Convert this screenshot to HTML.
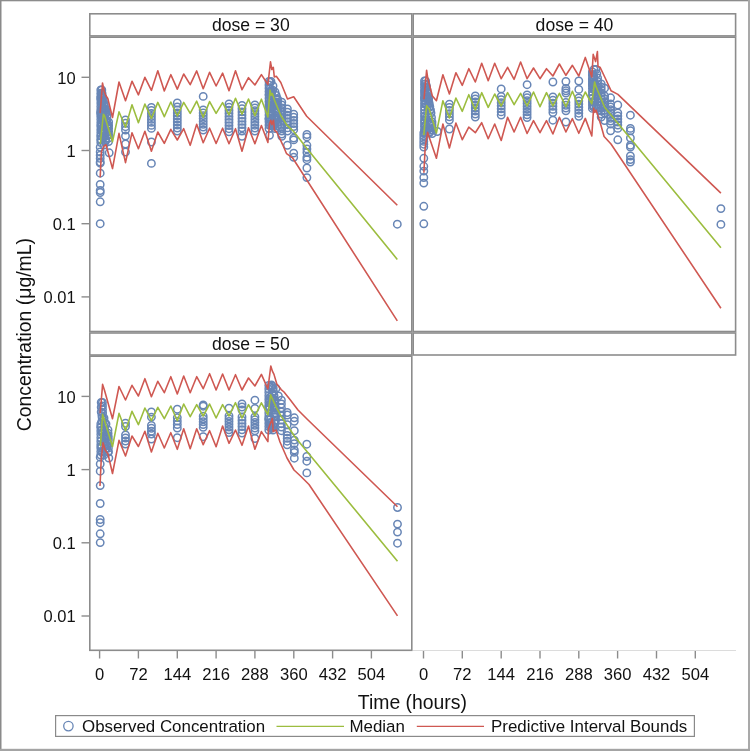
<!DOCTYPE html>
<html><head><meta charset="utf-8"><style>html,body{margin:0;padding:0;background:#fff;width:750px;height:751px;overflow:hidden}</style></head>
<body><svg width="750" height="751" viewBox="0 0 750 751" style="display:block;will-change:transform">
<rect x="0" y="0" width="750" height="751" fill="#fff"/>
<rect x="0" y="0" width="1.5" height="751" fill="#8a8a8a"/>
<rect x="0" y="0" width="750" height="1.3" fill="#8c8c8c"/>
<rect x="748" y="0" width="2" height="751" fill="#a9a9a9"/>
<rect x="0" y="748.8" width="750" height="2.2" fill="#a4a4a4"/>
<defs><clipPath id="c1"><rect x="90.5" y="36.5" width="320.5" height="294.5"/></clipPath><clipPath id="c2"><rect x="414" y="36.5" width="321" height="294.5"/></clipPath><clipPath id="c3"><rect x="90.5" y="355.5" width="320.5" height="294.5"/></clipPath></defs>
<g clip-path="url(#c1)" fill="none" stroke="#6886b6" stroke-width="1.5"><circle cx="125.5" cy="120.0" r="3.7"/><circle cx="125.5" cy="123.3" r="3.7"/><circle cx="125.5" cy="126.7" r="3.7"/><circle cx="125.5" cy="130.0" r="3.7"/><circle cx="125.5" cy="136.0" r="3.7"/><circle cx="125.5" cy="144.0" r="3.7"/><circle cx="125.5" cy="152.0" r="3.7"/><circle cx="151.4" cy="107.5" r="3.7"/><circle cx="151.4" cy="110.5" r="3.7"/><circle cx="151.4" cy="113.5" r="3.7"/><circle cx="151.4" cy="116.5" r="3.7"/><circle cx="151.4" cy="119.4" r="3.7"/><circle cx="151.4" cy="122.4" r="3.7"/><circle cx="151.4" cy="125.4" r="3.7"/><circle cx="151.4" cy="128.4" r="3.7"/><circle cx="151.4" cy="142.0" r="3.7"/><circle cx="151.4" cy="163.4" r="3.7"/><circle cx="177.3" cy="107.0" r="3.7"/><circle cx="177.3" cy="110.0" r="3.7"/><circle cx="177.3" cy="113.0" r="3.7"/><circle cx="177.3" cy="116.0" r="3.7"/><circle cx="177.3" cy="119.0" r="3.7"/><circle cx="177.3" cy="122.0" r="3.7"/><circle cx="177.3" cy="125.0" r="3.7"/><circle cx="177.3" cy="128.0" r="3.7"/><circle cx="177.3" cy="131.0" r="3.7"/><circle cx="177.3" cy="103.0" r="3.7"/><circle cx="203.2" cy="110.0" r="3.7"/><circle cx="203.2" cy="112.9" r="3.7"/><circle cx="203.2" cy="115.7" r="3.7"/><circle cx="203.2" cy="118.6" r="3.7"/><circle cx="203.2" cy="121.4" r="3.7"/><circle cx="203.2" cy="124.3" r="3.7"/><circle cx="203.2" cy="127.1" r="3.7"/><circle cx="203.2" cy="130.0" r="3.7"/><circle cx="203.2" cy="96.4" r="3.7"/><circle cx="229.0" cy="104.0" r="3.7"/><circle cx="229.0" cy="107.1" r="3.7"/><circle cx="229.0" cy="110.2" r="3.7"/><circle cx="229.0" cy="113.3" r="3.7"/><circle cx="229.0" cy="116.4" r="3.7"/><circle cx="229.0" cy="119.4" r="3.7"/><circle cx="229.0" cy="122.5" r="3.7"/><circle cx="229.0" cy="125.6" r="3.7"/><circle cx="229.0" cy="128.7" r="3.7"/><circle cx="229.0" cy="131.8" r="3.7"/><circle cx="242.0" cy="105.5" r="3.7"/><circle cx="242.0" cy="108.7" r="3.7"/><circle cx="242.0" cy="111.9" r="3.7"/><circle cx="242.0" cy="115.1" r="3.7"/><circle cx="242.0" cy="118.2" r="3.7"/><circle cx="242.0" cy="121.4" r="3.7"/><circle cx="242.0" cy="124.6" r="3.7"/><circle cx="242.0" cy="127.8" r="3.7"/><circle cx="242.0" cy="131.0" r="3.7"/><circle cx="242.0" cy="136.3" r="3.7"/><circle cx="254.9" cy="105.0" r="3.7"/><circle cx="254.9" cy="107.9" r="3.7"/><circle cx="254.9" cy="110.8" r="3.7"/><circle cx="254.9" cy="113.7" r="3.7"/><circle cx="254.9" cy="116.6" r="3.7"/><circle cx="254.9" cy="119.4" r="3.7"/><circle cx="254.9" cy="122.3" r="3.7"/><circle cx="254.9" cy="125.2" r="3.7"/><circle cx="254.9" cy="128.1" r="3.7"/><circle cx="254.9" cy="131.0" r="3.7"/><circle cx="281.8" cy="105.0" r="3.7"/><circle cx="281.8" cy="107.9" r="3.7"/><circle cx="281.8" cy="110.8" r="3.7"/><circle cx="281.8" cy="113.7" r="3.7"/><circle cx="281.8" cy="116.6" r="3.7"/><circle cx="281.8" cy="119.5" r="3.7"/><circle cx="281.8" cy="122.4" r="3.7"/><circle cx="281.8" cy="125.3" r="3.7"/><circle cx="281.8" cy="128.2" r="3.7"/><circle cx="281.8" cy="131.1" r="3.7"/><circle cx="281.8" cy="134.0" r="3.7"/><circle cx="281.8" cy="102.2" r="3.7"/><circle cx="281.8" cy="136.3" r="3.7"/><circle cx="287.4" cy="109.0" r="3.7"/><circle cx="287.4" cy="112.1" r="3.7"/><circle cx="287.4" cy="115.3" r="3.7"/><circle cx="287.4" cy="118.4" r="3.7"/><circle cx="287.4" cy="121.6" r="3.7"/><circle cx="287.4" cy="124.7" r="3.7"/><circle cx="287.4" cy="127.9" r="3.7"/><circle cx="287.4" cy="131.0" r="3.7"/><circle cx="287.4" cy="145.3" r="3.7"/><circle cx="293.7" cy="114.2" r="3.7"/><circle cx="293.7" cy="117.3" r="3.7"/><circle cx="293.7" cy="120.4" r="3.7"/><circle cx="293.7" cy="123.5" r="3.7"/><circle cx="293.7" cy="126.6" r="3.7"/><circle cx="293.7" cy="129.7" r="3.7"/><circle cx="293.7" cy="138.1" r="3.7"/><circle cx="293.7" cy="139.9" r="3.7"/><circle cx="293.7" cy="153.1" r="3.7"/><circle cx="293.7" cy="157.3" r="3.7"/><circle cx="306.9" cy="145.3" r="3.7"/><circle cx="306.9" cy="148.9" r="3.7"/><circle cx="306.9" cy="152.5" r="3.7"/><circle cx="306.9" cy="134.5" r="3.7"/><circle cx="306.9" cy="136.9" r="3.7"/><circle cx="306.9" cy="157.3" r="3.7"/><circle cx="306.9" cy="159.7" r="3.7"/><circle cx="306.9" cy="168.0" r="3.7"/><circle cx="306.9" cy="177.6" r="3.7"/><circle cx="100.2" cy="147.2" r="3.7"/><circle cx="100.2" cy="152.0" r="3.7"/><circle cx="100.2" cy="155.2" r="3.7"/><circle cx="100.2" cy="158.4" r="3.7"/><circle cx="100.2" cy="162.0" r="3.7"/><circle cx="100.2" cy="163.2" r="3.7"/><circle cx="100.2" cy="173.2" r="3.7"/><circle cx="100.2" cy="184.5" r="3.7"/><circle cx="100.2" cy="190.5" r="3.7"/><circle cx="100.2" cy="192.5" r="3.7"/><circle cx="100.2" cy="201.8" r="3.7"/><circle cx="100.2" cy="223.7" r="3.7"/><circle cx="397.3" cy="224.2" r="3.7"/><circle cx="109.2" cy="152.8" r="3.7"/><circle cx="108.6" cy="141.5" r="3.7"/><circle cx="104.0" cy="145.0" r="3.7"/><circle cx="269.5" cy="135.3" r="3.7"/><circle cx="105.0" cy="109.2" r="3.7"/><circle cx="101.3" cy="116.6" r="3.7"/><circle cx="101.1" cy="112.8" r="3.7"/><circle cx="101.3" cy="94.8" r="3.7"/><circle cx="104.1" cy="133.4" r="3.7"/><circle cx="101.8" cy="101.7" r="3.7"/><circle cx="105.7" cy="139.8" r="3.7"/><circle cx="105.3" cy="110.8" r="3.7"/><circle cx="101.9" cy="96.2" r="3.7"/><circle cx="103.2" cy="132.8" r="3.7"/><circle cx="102.2" cy="120.5" r="3.7"/><circle cx="101.3" cy="100.8" r="3.7"/><circle cx="106.1" cy="112.4" r="3.7"/><circle cx="103.3" cy="120.7" r="3.7"/><circle cx="104.3" cy="105.7" r="3.7"/><circle cx="107.0" cy="126.7" r="3.7"/><circle cx="102.7" cy="120.2" r="3.7"/><circle cx="104.9" cy="135.9" r="3.7"/><circle cx="104.1" cy="129.7" r="3.7"/><circle cx="102.0" cy="115.7" r="3.7"/><circle cx="101.1" cy="125.1" r="3.7"/><circle cx="106.8" cy="120.1" r="3.7"/><circle cx="106.2" cy="121.2" r="3.7"/><circle cx="105.3" cy="114.0" r="3.7"/><circle cx="104.5" cy="124.9" r="3.7"/><circle cx="101.3" cy="126.8" r="3.7"/><circle cx="103.8" cy="125.1" r="3.7"/><circle cx="101.0" cy="114.2" r="3.7"/><circle cx="102.1" cy="96.1" r="3.7"/><circle cx="101.3" cy="130.3" r="3.7"/><circle cx="101.8" cy="103.0" r="3.7"/><circle cx="103.8" cy="135.7" r="3.7"/><circle cx="101.4" cy="113.6" r="3.7"/><circle cx="105.1" cy="136.4" r="3.7"/><circle cx="107.2" cy="135.4" r="3.7"/><circle cx="103.0" cy="111.8" r="3.7"/><circle cx="103.6" cy="136.4" r="3.7"/><circle cx="102.2" cy="102.2" r="3.7"/><circle cx="102.6" cy="115.5" r="3.7"/><circle cx="100.8" cy="112.0" r="3.7"/><circle cx="103.7" cy="119.7" r="3.7"/><circle cx="108.2" cy="126.3" r="3.7"/><circle cx="104.8" cy="122.4" r="3.7"/><circle cx="107.8" cy="130.9" r="3.7"/><circle cx="107.6" cy="131.9" r="3.7"/><circle cx="103.9" cy="110.9" r="3.7"/><circle cx="101.6" cy="123.3" r="3.7"/><circle cx="101.3" cy="93.5" r="3.7"/><circle cx="102.4" cy="98.5" r="3.7"/><circle cx="100.8" cy="97.9" r="3.7"/><circle cx="101.6" cy="109.1" r="3.7"/><circle cx="101.0" cy="135.9" r="3.7"/><circle cx="102.8" cy="108.2" r="3.7"/><circle cx="104.4" cy="115.4" r="3.7"/><circle cx="101.5" cy="95.4" r="3.7"/><circle cx="103.5" cy="103.9" r="3.7"/><circle cx="101.0" cy="139.9" r="3.7"/><circle cx="107.5" cy="126.6" r="3.7"/><circle cx="102.8" cy="109.3" r="3.7"/><circle cx="102.1" cy="130.5" r="3.7"/><circle cx="105.0" cy="130.9" r="3.7"/><circle cx="100.8" cy="90.0" r="3.7"/><circle cx="101.8" cy="90.0" r="3.7"/><circle cx="102.1" cy="93.5" r="3.7"/><circle cx="102.4" cy="97.0" r="3.7"/><circle cx="103.3" cy="100.5" r="3.7"/><circle cx="104.2" cy="104.0" r="3.7"/><circle cx="105.6" cy="109.0" r="3.7"/><circle cx="106.3" cy="112.5" r="3.7"/><circle cx="107.0" cy="116.0" r="3.7"/><circle cx="108.6" cy="122.0" r="3.7"/><circle cx="108.6" cy="125.2" r="3.7"/><circle cx="108.6" cy="128.4" r="3.7"/><circle cx="108.6" cy="131.6" r="3.7"/><circle cx="108.6" cy="134.8" r="3.7"/><circle cx="108.6" cy="138.0" r="3.7"/><circle cx="105.5" cy="141.2" r="3.7"/><circle cx="100.8" cy="142.5" r="3.7"/><circle cx="100.8" cy="139.2" r="3.7"/><circle cx="100.8" cy="135.9" r="3.7"/><circle cx="100.8" cy="132.7" r="3.7"/><circle cx="100.8" cy="129.4" r="3.7"/><circle cx="100.8" cy="126.1" r="3.7"/><circle cx="100.8" cy="122.8" r="3.7"/><circle cx="100.8" cy="119.5" r="3.7"/><circle cx="100.8" cy="116.2" r="3.7"/><circle cx="100.8" cy="113.0" r="3.7"/><circle cx="100.8" cy="109.7" r="3.7"/><circle cx="100.8" cy="106.4" r="3.7"/><circle cx="100.8" cy="103.1" r="3.7"/><circle cx="100.8" cy="99.8" r="3.7"/><circle cx="100.8" cy="96.6" r="3.7"/><circle cx="100.8" cy="93.3" r="3.7"/><circle cx="271.8" cy="92.0" r="3.7"/><circle cx="276.2" cy="119.4" r="3.7"/><circle cx="276.0" cy="116.3" r="3.7"/><circle cx="270.9" cy="105.8" r="3.7"/><circle cx="269.2" cy="94.6" r="3.7"/><circle cx="271.2" cy="114.0" r="3.7"/><circle cx="277.1" cy="102.5" r="3.7"/><circle cx="277.1" cy="98.6" r="3.7"/><circle cx="270.9" cy="92.2" r="3.7"/><circle cx="270.7" cy="91.1" r="3.7"/><circle cx="274.3" cy="123.8" r="3.7"/><circle cx="276.1" cy="104.0" r="3.7"/><circle cx="274.6" cy="119.1" r="3.7"/><circle cx="269.7" cy="112.5" r="3.7"/><circle cx="276.7" cy="118.3" r="3.7"/><circle cx="275.4" cy="104.0" r="3.7"/><circle cx="270.5" cy="118.6" r="3.7"/><circle cx="271.8" cy="119.1" r="3.7"/><circle cx="277.3" cy="100.1" r="3.7"/><circle cx="272.4" cy="126.0" r="3.7"/><circle cx="270.1" cy="88.6" r="3.7"/><circle cx="276.7" cy="119.4" r="3.7"/><circle cx="270.2" cy="120.3" r="3.7"/><circle cx="277.3" cy="112.4" r="3.7"/><circle cx="272.0" cy="107.3" r="3.7"/><circle cx="270.1" cy="82.2" r="3.7"/><circle cx="277.3" cy="112.0" r="3.7"/><circle cx="273.5" cy="125.4" r="3.7"/><circle cx="272.7" cy="122.5" r="3.7"/><circle cx="271.1" cy="95.3" r="3.7"/><circle cx="271.0" cy="109.1" r="3.7"/><circle cx="271.2" cy="101.2" r="3.7"/><circle cx="270.1" cy="124.3" r="3.7"/><circle cx="272.0" cy="103.0" r="3.7"/><circle cx="274.0" cy="124.0" r="3.7"/><circle cx="272.6" cy="124.6" r="3.7"/><circle cx="273.3" cy="106.5" r="3.7"/><circle cx="272.7" cy="90.1" r="3.7"/><circle cx="269.0" cy="119.1" r="3.7"/><circle cx="270.5" cy="103.8" r="3.7"/><circle cx="275.2" cy="107.7" r="3.7"/><circle cx="271.8" cy="105.9" r="3.7"/><circle cx="273.7" cy="118.4" r="3.7"/><circle cx="269.9" cy="107.8" r="3.7"/><circle cx="271.1" cy="94.5" r="3.7"/><circle cx="275.6" cy="105.4" r="3.7"/><circle cx="273.8" cy="117.2" r="3.7"/><circle cx="276.8" cy="102.3" r="3.7"/><circle cx="274.2" cy="105.3" r="3.7"/><circle cx="273.4" cy="114.1" r="3.7"/><circle cx="272.8" cy="106.6" r="3.7"/><circle cx="273.1" cy="125.8" r="3.7"/><circle cx="274.9" cy="122.7" r="3.7"/><circle cx="273.8" cy="125.8" r="3.7"/><circle cx="270.0" cy="102.3" r="3.7"/><circle cx="269.6" cy="92.8" r="3.7"/><circle cx="269.0" cy="81.5" r="3.7"/><circle cx="271.0" cy="81.5" r="3.7"/><circle cx="273.0" cy="86.0" r="3.7"/><circle cx="275.0" cy="92.0" r="3.7"/><circle cx="276.2" cy="95.5" r="3.7"/><circle cx="277.5" cy="99.0" r="3.7"/><circle cx="277.5" cy="102.4" r="3.7"/><circle cx="277.5" cy="105.8" r="3.7"/><circle cx="277.5" cy="109.1" r="3.7"/><circle cx="277.5" cy="112.5" r="3.7"/><circle cx="277.5" cy="115.9" r="3.7"/><circle cx="277.5" cy="119.2" r="3.7"/><circle cx="277.5" cy="122.6" r="3.7"/><circle cx="277.5" cy="126.0" r="3.7"/><circle cx="275.0" cy="128.5" r="3.7"/><circle cx="269.0" cy="128.5" r="3.7"/><circle cx="269.0" cy="125.1" r="3.7"/><circle cx="269.0" cy="121.8" r="3.7"/><circle cx="269.0" cy="118.4" r="3.7"/><circle cx="269.0" cy="115.1" r="3.7"/><circle cx="269.0" cy="111.7" r="3.7"/><circle cx="269.0" cy="108.4" r="3.7"/><circle cx="269.0" cy="105.0" r="3.7"/><circle cx="269.0" cy="101.6" r="3.7"/><circle cx="269.0" cy="98.3" r="3.7"/><circle cx="269.0" cy="94.9" r="3.7"/><circle cx="269.0" cy="91.6" r="3.7"/><circle cx="269.0" cy="88.2" r="3.7"/><circle cx="269.0" cy="84.9" r="3.7"/></g>
<g clip-path="url(#c2)" fill="none" stroke="#6886b6" stroke-width="1.5"><circle cx="449.4" cy="104.2" r="3.7"/><circle cx="449.4" cy="107.4" r="3.7"/><circle cx="449.4" cy="110.5" r="3.7"/><circle cx="449.4" cy="113.7" r="3.7"/><circle cx="449.4" cy="116.8" r="3.7"/><circle cx="449.4" cy="120.0" r="3.7"/><circle cx="449.4" cy="129.0" r="3.7"/><circle cx="475.3" cy="96.0" r="3.7"/><circle cx="475.3" cy="99.0" r="3.7"/><circle cx="475.3" cy="102.0" r="3.7"/><circle cx="475.3" cy="105.0" r="3.7"/><circle cx="475.3" cy="108.0" r="3.7"/><circle cx="475.3" cy="111.0" r="3.7"/><circle cx="475.3" cy="114.0" r="3.7"/><circle cx="475.3" cy="117.0" r="3.7"/><circle cx="501.2" cy="96.5" r="3.7"/><circle cx="501.2" cy="99.6" r="3.7"/><circle cx="501.2" cy="102.7" r="3.7"/><circle cx="501.2" cy="105.8" r="3.7"/><circle cx="501.2" cy="108.8" r="3.7"/><circle cx="501.2" cy="111.9" r="3.7"/><circle cx="501.2" cy="115.0" r="3.7"/><circle cx="501.2" cy="88.9" r="3.7"/><circle cx="527.1" cy="95.0" r="3.7"/><circle cx="527.1" cy="97.8" r="3.7"/><circle cx="527.1" cy="100.7" r="3.7"/><circle cx="527.1" cy="103.5" r="3.7"/><circle cx="527.1" cy="106.3" r="3.7"/><circle cx="527.1" cy="109.1" r="3.7"/><circle cx="527.1" cy="111.9" r="3.7"/><circle cx="527.1" cy="114.8" r="3.7"/><circle cx="527.1" cy="117.6" r="3.7"/><circle cx="527.1" cy="84.7" r="3.7"/><circle cx="552.9" cy="97.0" r="3.7"/><circle cx="552.9" cy="100.1" r="3.7"/><circle cx="552.9" cy="103.2" r="3.7"/><circle cx="552.9" cy="106.3" r="3.7"/><circle cx="552.9" cy="109.4" r="3.7"/><circle cx="552.9" cy="112.5" r="3.7"/><circle cx="552.9" cy="82.0" r="3.7"/><circle cx="552.9" cy="120.2" r="3.7"/><circle cx="565.9" cy="88.5" r="3.7"/><circle cx="565.9" cy="90.8" r="3.7"/><circle cx="565.9" cy="93.0" r="3.7"/><circle cx="565.9" cy="102.5" r="3.7"/><circle cx="565.9" cy="105.3" r="3.7"/><circle cx="565.9" cy="108.0" r="3.7"/><circle cx="565.9" cy="110.8" r="3.7"/><circle cx="565.9" cy="81.5" r="3.7"/><circle cx="565.9" cy="122.0" r="3.7"/><circle cx="578.8" cy="98.0" r="3.7"/><circle cx="578.8" cy="101.0" r="3.7"/><circle cx="578.8" cy="104.1" r="3.7"/><circle cx="578.8" cy="107.2" r="3.7"/><circle cx="578.8" cy="110.2" r="3.7"/><circle cx="578.8" cy="113.2" r="3.7"/><circle cx="578.8" cy="116.3" r="3.7"/><circle cx="578.8" cy="81.0" r="3.7"/><circle cx="578.8" cy="89.4" r="3.7"/><circle cx="604.6" cy="96.0" r="3.7"/><circle cx="604.6" cy="98.8" r="3.7"/><circle cx="604.6" cy="101.7" r="3.7"/><circle cx="604.6" cy="104.5" r="3.7"/><circle cx="604.6" cy="107.3" r="3.7"/><circle cx="604.6" cy="110.2" r="3.7"/><circle cx="604.6" cy="113.0" r="3.7"/><circle cx="604.6" cy="88.2" r="3.7"/><circle cx="604.6" cy="120.6" r="3.7"/><circle cx="601.2" cy="84.0" r="3.7"/><circle cx="601.2" cy="87.0" r="3.7"/><circle cx="601.2" cy="90.0" r="3.7"/><circle cx="601.2" cy="93.0" r="3.7"/><circle cx="601.2" cy="96.0" r="3.7"/><circle cx="601.2" cy="99.0" r="3.7"/><circle cx="601.2" cy="102.0" r="3.7"/><circle cx="601.2" cy="105.0" r="3.7"/><circle cx="601.2" cy="108.0" r="3.7"/><circle cx="601.2" cy="111.0" r="3.7"/><circle cx="601.2" cy="114.0" r="3.7"/><circle cx="601.2" cy="117.0" r="3.7"/><circle cx="610.6" cy="104.0" r="3.7"/><circle cx="610.6" cy="106.9" r="3.7"/><circle cx="610.6" cy="109.7" r="3.7"/><circle cx="610.6" cy="112.6" r="3.7"/><circle cx="610.6" cy="115.4" r="3.7"/><circle cx="610.6" cy="118.3" r="3.7"/><circle cx="610.6" cy="121.1" r="3.7"/><circle cx="610.6" cy="124.0" r="3.7"/><circle cx="610.6" cy="97.8" r="3.7"/><circle cx="610.6" cy="130.8" r="3.7"/><circle cx="617.8" cy="113.0" r="3.7"/><circle cx="617.8" cy="116.0" r="3.7"/><circle cx="617.8" cy="119.0" r="3.7"/><circle cx="617.8" cy="122.0" r="3.7"/><circle cx="617.8" cy="125.0" r="3.7"/><circle cx="617.8" cy="105.0" r="3.7"/><circle cx="617.8" cy="128.4" r="3.7"/><circle cx="617.8" cy="139.8" r="3.7"/><circle cx="630.4" cy="115.2" r="3.7"/><circle cx="630.4" cy="128.4" r="3.7"/><circle cx="630.4" cy="130.8" r="3.7"/><circle cx="630.4" cy="138.0" r="3.7"/><circle cx="630.4" cy="145.2" r="3.7"/><circle cx="630.4" cy="147.0" r="3.7"/><circle cx="630.4" cy="156.0" r="3.7"/><circle cx="630.4" cy="159.6" r="3.7"/><circle cx="630.4" cy="162.0" r="3.7"/><circle cx="423.8" cy="133.0" r="3.7"/><circle cx="423.8" cy="135.8" r="3.7"/><circle cx="423.8" cy="138.6" r="3.7"/><circle cx="423.8" cy="141.4" r="3.7"/><circle cx="423.8" cy="144.2" r="3.7"/><circle cx="423.8" cy="147.0" r="3.7"/><circle cx="423.8" cy="158.3" r="3.7"/><circle cx="423.8" cy="166.3" r="3.7"/><circle cx="423.8" cy="171.1" r="3.7"/><circle cx="423.8" cy="177.5" r="3.7"/><circle cx="423.8" cy="183.1" r="3.7"/><circle cx="423.8" cy="206.3" r="3.7"/><circle cx="423.8" cy="223.8" r="3.7"/><circle cx="720.9" cy="208.6" r="3.7"/><circle cx="720.9" cy="224.4" r="3.7"/><circle cx="437.3" cy="131.5" r="3.7"/><circle cx="432.2" cy="133.6" r="3.7"/><circle cx="425.0" cy="115.8" r="3.7"/><circle cx="430.4" cy="127.6" r="3.7"/><circle cx="425.7" cy="118.2" r="3.7"/><circle cx="426.1" cy="130.5" r="3.7"/><circle cx="427.5" cy="106.3" r="3.7"/><circle cx="431.9" cy="124.3" r="3.7"/><circle cx="425.7" cy="103.4" r="3.7"/><circle cx="428.4" cy="98.6" r="3.7"/><circle cx="426.0" cy="97.6" r="3.7"/><circle cx="428.7" cy="103.9" r="3.7"/><circle cx="424.6" cy="98.2" r="3.7"/><circle cx="429.2" cy="107.6" r="3.7"/><circle cx="425.0" cy="132.2" r="3.7"/><circle cx="430.4" cy="131.5" r="3.7"/><circle cx="425.3" cy="94.8" r="3.7"/><circle cx="424.8" cy="121.5" r="3.7"/><circle cx="426.5" cy="87.7" r="3.7"/><circle cx="427.7" cy="128.4" r="3.7"/><circle cx="425.6" cy="128.8" r="3.7"/><circle cx="428.8" cy="117.4" r="3.7"/><circle cx="425.2" cy="84.0" r="3.7"/><circle cx="425.0" cy="129.8" r="3.7"/><circle cx="429.3" cy="122.7" r="3.7"/><circle cx="425.1" cy="125.5" r="3.7"/><circle cx="425.0" cy="125.9" r="3.7"/><circle cx="427.9" cy="98.6" r="3.7"/><circle cx="428.6" cy="129.2" r="3.7"/><circle cx="426.5" cy="87.7" r="3.7"/><circle cx="425.3" cy="89.4" r="3.7"/><circle cx="424.9" cy="91.5" r="3.7"/><circle cx="426.8" cy="96.9" r="3.7"/><circle cx="430.0" cy="109.7" r="3.7"/><circle cx="424.5" cy="81.0" r="3.7"/><circle cx="425.6" cy="81.0" r="3.7"/><circle cx="426.3" cy="85.5" r="3.7"/><circle cx="427.0" cy="90.0" r="3.7"/><circle cx="427.5" cy="93.3" r="3.7"/><circle cx="428.1" cy="96.7" r="3.7"/><circle cx="428.6" cy="100.0" r="3.7"/><circle cx="429.2" cy="103.2" r="3.7"/><circle cx="429.8" cy="106.5" r="3.7"/><circle cx="430.4" cy="109.8" r="3.7"/><circle cx="431.0" cy="113.0" r="3.7"/><circle cx="431.5" cy="117.5" r="3.7"/><circle cx="432.0" cy="122.0" r="3.7"/><circle cx="432.0" cy="126.0" r="3.7"/><circle cx="432.0" cy="130.0" r="3.7"/><circle cx="429.0" cy="133.0" r="3.7"/><circle cx="424.5" cy="133.0" r="3.7"/><circle cx="424.5" cy="129.8" r="3.7"/><circle cx="424.5" cy="126.5" r="3.7"/><circle cx="424.5" cy="123.2" r="3.7"/><circle cx="424.5" cy="120.0" r="3.7"/><circle cx="424.5" cy="116.8" r="3.7"/><circle cx="424.5" cy="113.5" r="3.7"/><circle cx="424.5" cy="110.2" r="3.7"/><circle cx="424.5" cy="107.0" r="3.7"/><circle cx="424.5" cy="103.8" r="3.7"/><circle cx="424.5" cy="100.5" r="3.7"/><circle cx="424.5" cy="97.2" r="3.7"/><circle cx="424.5" cy="94.0" r="3.7"/><circle cx="424.5" cy="90.8" r="3.7"/><circle cx="424.5" cy="87.5" r="3.7"/><circle cx="424.5" cy="84.2" r="3.7"/><circle cx="593.4" cy="88.0" r="3.7"/><circle cx="596.7" cy="86.3" r="3.7"/><circle cx="595.0" cy="102.0" r="3.7"/><circle cx="594.4" cy="89.2" r="3.7"/><circle cx="596.0" cy="107.7" r="3.7"/><circle cx="594.2" cy="101.9" r="3.7"/><circle cx="596.1" cy="94.2" r="3.7"/><circle cx="594.5" cy="83.0" r="3.7"/><circle cx="592.7" cy="74.5" r="3.7"/><circle cx="592.8" cy="98.3" r="3.7"/><circle cx="593.7" cy="75.9" r="3.7"/><circle cx="592.8" cy="102.2" r="3.7"/><circle cx="596.9" cy="95.6" r="3.7"/><circle cx="593.9" cy="78.9" r="3.7"/><circle cx="593.9" cy="87.4" r="3.7"/><circle cx="593.2" cy="86.8" r="3.7"/><circle cx="593.8" cy="106.9" r="3.7"/><circle cx="597.5" cy="90.8" r="3.7"/><circle cx="593.7" cy="107.1" r="3.7"/><circle cx="594.0" cy="83.4" r="3.7"/><circle cx="592.4" cy="84.3" r="3.7"/><circle cx="594.9" cy="89.1" r="3.7"/><circle cx="593.4" cy="89.1" r="3.7"/><circle cx="592.4" cy="79.8" r="3.7"/><circle cx="592.9" cy="85.0" r="3.7"/><circle cx="594.0" cy="78.6" r="3.7"/><circle cx="595.4" cy="90.1" r="3.7"/><circle cx="592.4" cy="72.0" r="3.7"/><circle cx="594.0" cy="69.5" r="3.7"/><circle cx="596.0" cy="69.5" r="3.7"/><circle cx="596.8" cy="73.8" r="3.7"/><circle cx="597.6" cy="78.0" r="3.7"/><circle cx="597.6" cy="81.4" r="3.7"/><circle cx="597.6" cy="84.8" r="3.7"/><circle cx="597.6" cy="88.1" r="3.7"/><circle cx="597.6" cy="91.5" r="3.7"/><circle cx="597.6" cy="94.9" r="3.7"/><circle cx="597.6" cy="98.3" r="3.7"/><circle cx="597.6" cy="101.6" r="3.7"/><circle cx="597.6" cy="105.0" r="3.7"/><circle cx="597.6" cy="108.4" r="3.7"/><circle cx="592.4" cy="108.4" r="3.7"/><circle cx="592.4" cy="105.1" r="3.7"/><circle cx="592.4" cy="101.8" r="3.7"/><circle cx="592.4" cy="98.5" r="3.7"/><circle cx="592.4" cy="95.2" r="3.7"/><circle cx="592.4" cy="91.9" r="3.7"/><circle cx="592.4" cy="88.5" r="3.7"/><circle cx="592.4" cy="85.2" r="3.7"/><circle cx="592.4" cy="81.9" r="3.7"/><circle cx="592.4" cy="78.6" r="3.7"/><circle cx="592.4" cy="75.3" r="3.7"/></g>
<g clip-path="url(#c3)" fill="none" stroke="#6886b6" stroke-width="1.5"><circle cx="125.5" cy="435.0" r="3.7"/><circle cx="125.5" cy="438.0" r="3.7"/><circle cx="125.5" cy="441.0" r="3.7"/><circle cx="125.5" cy="444.0" r="3.7"/><circle cx="125.5" cy="423.2" r="3.7"/><circle cx="125.5" cy="426.5" r="3.7"/><circle cx="151.4" cy="425.5" r="3.7"/><circle cx="151.4" cy="428.3" r="3.7"/><circle cx="151.4" cy="431.2" r="3.7"/><circle cx="151.4" cy="434.0" r="3.7"/><circle cx="151.4" cy="412.0" r="3.7"/><circle cx="151.4" cy="417.1" r="3.7"/><circle cx="151.4" cy="439.0" r="3.7"/><circle cx="177.3" cy="417.6" r="3.7"/><circle cx="177.3" cy="421.1" r="3.7"/><circle cx="177.3" cy="424.5" r="3.7"/><circle cx="177.3" cy="428.0" r="3.7"/><circle cx="177.3" cy="409.2" r="3.7"/><circle cx="177.3" cy="437.7" r="3.7"/><circle cx="203.2" cy="416.2" r="3.7"/><circle cx="203.2" cy="419.0" r="3.7"/><circle cx="203.2" cy="421.8" r="3.7"/><circle cx="203.2" cy="424.5" r="3.7"/><circle cx="203.2" cy="427.3" r="3.7"/><circle cx="203.2" cy="405.0" r="3.7"/><circle cx="203.2" cy="406.2" r="3.7"/><circle cx="203.2" cy="436.7" r="3.7"/><circle cx="229.0" cy="416.0" r="3.7"/><circle cx="229.0" cy="418.8" r="3.7"/><circle cx="229.0" cy="421.5" r="3.7"/><circle cx="229.0" cy="424.3" r="3.7"/><circle cx="229.0" cy="427.1" r="3.7"/><circle cx="229.0" cy="429.8" r="3.7"/><circle cx="229.0" cy="432.6" r="3.7"/><circle cx="229.0" cy="408.1" r="3.7"/><circle cx="242.0" cy="404.0" r="3.7"/><circle cx="242.0" cy="407.0" r="3.7"/><circle cx="242.0" cy="410.0" r="3.7"/><circle cx="242.0" cy="417.0" r="3.7"/><circle cx="242.0" cy="420.2" r="3.7"/><circle cx="242.0" cy="423.4" r="3.7"/><circle cx="242.0" cy="426.6" r="3.7"/><circle cx="242.0" cy="429.8" r="3.7"/><circle cx="242.0" cy="433.0" r="3.7"/><circle cx="254.9" cy="417.0" r="3.7"/><circle cx="254.9" cy="419.8" r="3.7"/><circle cx="254.9" cy="422.5" r="3.7"/><circle cx="254.9" cy="425.3" r="3.7"/><circle cx="254.9" cy="428.0" r="3.7"/><circle cx="254.9" cy="430.8" r="3.7"/><circle cx="254.9" cy="400.2" r="3.7"/><circle cx="254.9" cy="408.5" r="3.7"/><circle cx="254.9" cy="438.5" r="3.7"/><circle cx="281.4" cy="400.2" r="3.7"/><circle cx="281.4" cy="404.0" r="3.7"/><circle cx="281.4" cy="407.8" r="3.7"/><circle cx="281.4" cy="412.0" r="3.7"/><circle cx="281.4" cy="416.0" r="3.7"/><circle cx="281.4" cy="420.0" r="3.7"/><circle cx="281.4" cy="423.7" r="3.7"/><circle cx="281.4" cy="427.0" r="3.7"/><circle cx="281.4" cy="430.7" r="3.7"/><circle cx="287.2" cy="412.5" r="3.7"/><circle cx="287.2" cy="415.0" r="3.7"/><circle cx="287.2" cy="424.8" r="3.7"/><circle cx="287.2" cy="431.9" r="3.7"/><circle cx="287.2" cy="435.4" r="3.7"/><circle cx="287.2" cy="438.3" r="3.7"/><circle cx="287.2" cy="441.2" r="3.7"/><circle cx="287.2" cy="444.8" r="3.7"/><circle cx="294.3" cy="417.8" r="3.7"/><circle cx="294.3" cy="421.3" r="3.7"/><circle cx="294.3" cy="430.7" r="3.7"/><circle cx="294.3" cy="440.1" r="3.7"/><circle cx="294.3" cy="443.6" r="3.7"/><circle cx="294.3" cy="450.0" r="3.7"/><circle cx="294.3" cy="452.4" r="3.7"/><circle cx="294.3" cy="458.2" r="3.7"/><circle cx="306.8" cy="444.2" r="3.7"/><circle cx="306.8" cy="456.5" r="3.7"/><circle cx="306.8" cy="461.2" r="3.7"/><circle cx="306.8" cy="472.9" r="3.7"/><circle cx="100.2" cy="457.2" r="3.7"/><circle cx="100.2" cy="464.0" r="3.7"/><circle cx="100.2" cy="471.2" r="3.7"/><circle cx="100.2" cy="485.6" r="3.7"/><circle cx="100.2" cy="503.5" r="3.7"/><circle cx="100.2" cy="519.5" r="3.7"/><circle cx="100.2" cy="522.7" r="3.7"/><circle cx="100.2" cy="533.8" r="3.7"/><circle cx="100.2" cy="542.6" r="3.7"/><circle cx="397.5" cy="507.5" r="3.7"/><circle cx="397.5" cy="524.1" r="3.7"/><circle cx="397.5" cy="532.1" r="3.7"/><circle cx="397.5" cy="543.2" r="3.7"/><circle cx="108.8" cy="458.0" r="3.7"/><circle cx="276.0" cy="388.4" r="3.7"/><circle cx="278.4" cy="396.0" r="3.7"/><circle cx="106.5" cy="437.0" r="3.7"/><circle cx="106.2" cy="448.7" r="3.7"/><circle cx="103.8" cy="419.6" r="3.7"/><circle cx="106.3" cy="436.3" r="3.7"/><circle cx="101.1" cy="446.4" r="3.7"/><circle cx="107.6" cy="435.4" r="3.7"/><circle cx="106.4" cy="445.1" r="3.7"/><circle cx="101.9" cy="430.0" r="3.7"/><circle cx="104.6" cy="446.3" r="3.7"/><circle cx="106.9" cy="445.9" r="3.7"/><circle cx="105.2" cy="449.4" r="3.7"/><circle cx="106.0" cy="438.9" r="3.7"/><circle cx="101.8" cy="421.4" r="3.7"/><circle cx="101.6" cy="446.4" r="3.7"/><circle cx="105.0" cy="435.5" r="3.7"/><circle cx="105.6" cy="438.2" r="3.7"/><circle cx="106.9" cy="441.8" r="3.7"/><circle cx="104.6" cy="430.6" r="3.7"/><circle cx="104.6" cy="422.6" r="3.7"/><circle cx="104.4" cy="438.4" r="3.7"/><circle cx="106.6" cy="434.9" r="3.7"/><circle cx="101.9" cy="415.8" r="3.7"/><circle cx="105.9" cy="438.8" r="3.7"/><circle cx="104.7" cy="426.9" r="3.7"/><circle cx="108.2" cy="451.7" r="3.7"/><circle cx="100.9" cy="426.6" r="3.7"/><circle cx="102.4" cy="452.1" r="3.7"/><circle cx="102.4" cy="433.0" r="3.7"/><circle cx="101.2" cy="402.5" r="3.7"/><circle cx="102.4" cy="402.5" r="3.7"/><circle cx="102.5" cy="406.0" r="3.7"/><circle cx="102.5" cy="409.5" r="3.7"/><circle cx="102.6" cy="413.0" r="3.7"/><circle cx="104.0" cy="418.0" r="3.7"/><circle cx="106.0" cy="424.0" r="3.7"/><circle cx="108.0" cy="430.0" r="3.7"/><circle cx="108.1" cy="433.3" r="3.7"/><circle cx="108.3" cy="436.7" r="3.7"/><circle cx="108.4" cy="440.0" r="3.7"/><circle cx="108.4" cy="444.0" r="3.7"/><circle cx="108.4" cy="448.0" r="3.7"/><circle cx="108.4" cy="452.0" r="3.7"/><circle cx="104.0" cy="455.0" r="3.7"/><circle cx="100.8" cy="455.0" r="3.7"/><circle cx="100.8" cy="451.6" r="3.7"/><circle cx="100.8" cy="448.1" r="3.7"/><circle cx="100.8" cy="444.7" r="3.7"/><circle cx="100.8" cy="441.2" r="3.7"/><circle cx="100.8" cy="437.8" r="3.7"/><circle cx="100.8" cy="434.3" r="3.7"/><circle cx="100.8" cy="430.9" r="3.7"/><circle cx="100.8" cy="427.4" r="3.7"/><circle cx="100.8" cy="424.0" r="3.7"/><circle cx="102.2" cy="418.0" r="3.7"/><circle cx="101.2" cy="412.0" r="3.7"/><circle cx="101.2" cy="407.2" r="3.7"/><circle cx="269.7" cy="408.6" r="3.7"/><circle cx="274.3" cy="407.9" r="3.7"/><circle cx="274.7" cy="416.7" r="3.7"/><circle cx="270.4" cy="425.4" r="3.7"/><circle cx="272.1" cy="386.1" r="3.7"/><circle cx="268.8" cy="407.1" r="3.7"/><circle cx="271.8" cy="398.6" r="3.7"/><circle cx="269.7" cy="400.5" r="3.7"/><circle cx="270.9" cy="422.8" r="3.7"/><circle cx="268.8" cy="418.8" r="3.7"/><circle cx="275.0" cy="417.1" r="3.7"/><circle cx="271.3" cy="402.7" r="3.7"/><circle cx="271.2" cy="404.3" r="3.7"/><circle cx="270.6" cy="387.2" r="3.7"/><circle cx="269.5" cy="422.6" r="3.7"/><circle cx="270.7" cy="427.1" r="3.7"/><circle cx="270.5" cy="397.0" r="3.7"/><circle cx="272.2" cy="393.5" r="3.7"/><circle cx="271.3" cy="428.0" r="3.7"/><circle cx="274.7" cy="421.5" r="3.7"/><circle cx="273.0" cy="426.1" r="3.7"/><circle cx="273.7" cy="405.3" r="3.7"/><circle cx="273.8" cy="414.0" r="3.7"/><circle cx="270.7" cy="387.2" r="3.7"/><circle cx="272.0" cy="400.5" r="3.7"/><circle cx="270.8" cy="418.3" r="3.7"/><circle cx="273.2" cy="398.5" r="3.7"/><circle cx="268.8" cy="385.5" r="3.7"/><circle cx="271.5" cy="385.0" r="3.7"/><circle cx="273.2" cy="388.0" r="3.7"/><circle cx="273.6" cy="392.0" r="3.7"/><circle cx="274.1" cy="396.0" r="3.7"/><circle cx="274.5" cy="400.0" r="3.7"/><circle cx="274.7" cy="403.3" r="3.7"/><circle cx="274.8" cy="406.7" r="3.7"/><circle cx="275.0" cy="410.0" r="3.7"/><circle cx="275.2" cy="413.3" r="3.7"/><circle cx="275.3" cy="416.7" r="3.7"/><circle cx="275.5" cy="420.0" r="3.7"/><circle cx="274.7" cy="423.3" r="3.7"/><circle cx="273.8" cy="426.7" r="3.7"/><circle cx="273.0" cy="430.0" r="3.7"/><circle cx="268.8" cy="430.0" r="3.7"/><circle cx="268.8" cy="426.6" r="3.7"/><circle cx="268.8" cy="423.2" r="3.7"/><circle cx="268.8" cy="419.7" r="3.7"/><circle cx="268.8" cy="416.3" r="3.7"/><circle cx="268.8" cy="412.9" r="3.7"/><circle cx="268.8" cy="409.5" r="3.7"/><circle cx="268.8" cy="406.0" r="3.7"/><circle cx="268.8" cy="402.6" r="3.7"/><circle cx="268.8" cy="399.2" r="3.7"/><circle cx="268.8" cy="395.8" r="3.7"/><circle cx="268.8" cy="392.3" r="3.7"/><circle cx="268.8" cy="388.9" r="3.7"/></g>
<g clip-path="url(#c1)"><polyline points="100.2,113.1 102.5,83.0 104.2,91.2 105.8,95.5 107.8,98.5 112.5,117.5 119.0,82.0 125.5,100.8 132.0,81.2 138.4,94.9 144.9,77.3 151.4,90.4 157.8,70.7 164.3,90.9 170.8,74.7 177.3,89.1 183.7,74.0 190.2,84.7 196.7,70.9 203.2,88.7 209.6,72.3 216.1,86.0 222.6,73.1 229.0,90.7 235.5,70.7 242.0,89.7 248.5,77.7 254.9,85.0 261.4,74.6 267.9,84.5 270.5,61.8 271.8,69.5 273.3,67.3 274.3,77.0 276.3,76.3 280.8,82.5 287.5,99.0 293.7,96.8 306.7,116.2 397.3,205.2" fill="none" stroke="#cf5852" stroke-width="1.6" stroke-linejoin="round"/></g>
<g clip-path="url(#c1)"><polyline points="100.2,177.2 101.4,151.5 104.0,146.0 106.0,144.8 112.5,168.6 119.0,133.3 125.5,162.6 132.0,132.7 138.4,148.7 144.9,131.3 151.4,151.3 157.8,132.0 164.3,143.3 170.8,129.3 177.3,140.0 183.7,128.7 190.2,145.3 196.7,124.2 203.2,142.8 209.6,128.2 216.1,143.5 222.6,128.2 229.0,143.7 235.5,128.7 242.0,151.3 248.5,127.7 254.9,143.7 261.4,125.5 267.9,142.5 269.5,124.0 270.8,120.3 271.9,124.6 273.5,120.3 274.5,130.5 276.7,132.0 282.5,144.3 286.6,153.7 292.5,157.8 397.3,320.9" fill="none" stroke="#cf5852" stroke-width="1.6" stroke-linejoin="round"/></g>
<g clip-path="url(#c2)"><polyline points="424.0,99.3 426.6,70.2 427.8,78.5 432.4,96.0 436.4,100.7 442.9,74.7 449.4,94.0 455.9,72.7 462.3,85.3 468.8,68.7 475.3,82.0 481.7,63.3 488.2,80.7 494.7,63.3 501.2,78.7 507.6,67.3 514.1,79.3 520.6,62.0 527.1,78.7 533.5,68.0 540.0,78.7 546.5,68.7 552.9,76.0 559.4,64.0 565.9,75.3 572.4,65.3 578.8,76.0 585.3,57.4 591.8,77.0 593.2,54.4 595.6,61.6 597.4,51.6 598.0,66.4 600.0,67.2 605.2,78.0 611.0,90.7 617.9,94.4 720.9,193.1" fill="none" stroke="#cf5852" stroke-width="1.6" stroke-linejoin="round"/></g>
<g clip-path="url(#c2)"><polyline points="423.9,172.7 425.2,147.2 427.6,132.4 436.4,158.3 442.9,124.0 449.4,148.0 455.9,123.0 462.3,139.7 468.8,127.2 475.3,132.7 481.7,122.7 488.2,138.7 494.7,124.0 501.2,140.5 507.6,117.3 514.1,132.0 520.6,117.3 527.1,133.5 533.5,120.7 540.0,132.7 546.5,120.7 552.9,134.0 559.4,117.3 565.9,132.0 572.4,118.7 578.8,133.3 585.3,118.4 591.8,136.0 593.6,108.0 594.8,112.4 596.0,110.0 600.8,124.8 604.1,136.5 611.0,144.0 720.9,308.2" fill="none" stroke="#cf5852" stroke-width="1.6" stroke-linejoin="round"/></g>
<g clip-path="url(#c3)"><polyline points="100.2,413.3 102.6,384.4 104.4,390.0 112.5,418.7 119.0,386.5 125.5,400.0 132.0,385.3 138.4,396.0 144.9,378.7 151.4,396.7 157.8,381.3 164.3,392.7 170.8,376.7 177.3,394.0 183.7,376.0 190.2,392.7 196.7,376.7 203.2,388.7 209.6,373.7 216.1,390.0 222.6,374.0 229.0,390.0 235.5,374.7 242.0,390.0 248.5,378.0 254.9,386.0 261.4,374.4 267.9,388.8 270.8,366.0 272.4,371.2 274.0,374.4 276.8,384.0 281.2,389.6 284.0,392.0 290.0,399.6 298.0,410.0 307.0,419.0 397.5,506.8" fill="none" stroke="#cf5852" stroke-width="1.6" stroke-linejoin="round"/></g>
<g clip-path="url(#c3)"><polyline points="100.0,486.0 101.2,460.0 103.0,442.8 105.2,450.0 108.0,454.0 112.5,473.5 119.0,440.3 125.5,456.0 132.0,436.0 138.4,446.5 144.9,431.3 151.4,452.0 157.8,433.3 164.3,448.0 170.8,432.7 177.3,449.3 183.7,428.7 190.2,448.7 196.7,428.7 203.2,444.7 209.6,430.7 216.1,446.7 222.6,426.0 229.0,443.3 235.5,430.0 242.0,445.3 248.5,426.0 254.9,449.3 261.4,431.6 267.9,441.6 268.4,428.8 272.4,418.4 273.2,431.6 276.0,430.0 280.0,442.0 287.0,458.0 294.0,470.0 301.0,476.5 309.0,484.5 397.5,615.9" fill="none" stroke="#cf5852" stroke-width="1.6" stroke-linejoin="round"/></g>
<g clip-path="url(#c1)"><polyline points="100.3,144.0 103.4,114.2 104.5,115.8 112.5,141.7 119.0,111.8 125.5,127.2 132.0,104.7 138.4,122.7 144.9,104.0 151.4,118.5 157.8,102.4 164.3,116.7 170.8,102.0 177.3,116.0 183.7,102.4 190.2,113.3 196.7,101.2 203.2,117.3 209.6,101.6 216.1,113.3 222.6,102.7 229.0,114.8 235.5,98.3 242.0,114.3 248.5,99.0 254.9,115.7 261.4,99.2 267.9,117.0 270.0,90.0 271.2,95.2 272.4,93.6 274.4,100.0 280.8,115.5 287.3,125.7 293.7,131.5 306.7,148.2 397.3,259.4" fill="none" stroke="#9cbd3f" stroke-width="1.6" stroke-linejoin="round"/></g>
<g clip-path="url(#c2)"><polyline points="423.8,135.2 426.6,105.6 429.2,109.2 436.4,133.0 442.9,100.7 449.4,118.0 455.9,98.0 462.3,111.3 468.8,94.7 475.3,110.0 481.7,92.7 488.2,107.3 494.7,94.0 501.2,106.0 507.6,92.7 514.1,104.7 520.6,93.3 527.1,106.0 533.5,92.0 540.0,106.7 546.5,92.7 552.9,106.0 559.4,93.3 565.9,106.7 572.4,91.3 578.8,106.7 585.3,92.0 591.8,103.8 594.6,82.0 595.6,85.6 604.6,107.2 720.9,247.8" fill="none" stroke="#9cbd3f" stroke-width="1.6" stroke-linejoin="round"/></g>
<g clip-path="url(#c3)"><polyline points="100.4,446.0 102.6,414.4 104.0,418.8 112.5,446.5 119.0,413.3 125.5,430.7 132.0,411.3 138.4,424.7 144.9,408.0 151.4,420.7 157.8,407.3 164.3,418.7 170.8,406.0 177.3,420.7 183.7,404.0 190.2,416.7 196.7,404.7 203.2,416.0 209.6,404.0 216.1,418.0 222.6,404.7 229.0,416.0 235.5,402.7 242.0,418.0 248.5,404.7 254.9,416.0 261.4,402.8 267.9,414.8 270.6,394.8 276.0,406.8 280.8,415.6 295.0,437.0 397.5,561.2" fill="none" stroke="#9cbd3f" stroke-width="1.6" stroke-linejoin="round"/></g>
<rect x="89.8" y="13.8" width="322.0" height="22.099999999999998" fill="none" stroke="#8c8c8c" stroke-width="1.6"/>
<rect x="89.8" y="37.2" width="322.0" height="294.3" fill="none" stroke="#8c8c8c" stroke-width="1.6"/>
<rect x="413.2" y="13.8" width="322.40000000000003" height="22.099999999999998" fill="none" stroke="#8c8c8c" stroke-width="1.6"/>
<rect x="413.2" y="37.2" width="322.40000000000003" height="294.3" fill="none" stroke="#8c8c8c" stroke-width="1.6"/>
<rect x="413.2" y="333" width="322.40000000000003" height="22" fill="none" stroke="#8c8c8c" stroke-width="1.6"/>
<rect x="89.8" y="333" width="322.0" height="22" fill="none" stroke="#8c8c8c" stroke-width="1.6"/>
<rect x="89.8" y="356.2" width="322.0" height="294.09999999999997" fill="none" stroke="#8c8c8c" stroke-width="1.6"/>
<line x1="413" y1="650.5" x2="736" y2="650.5" stroke="#dcdcdc" stroke-width="1.2"/>
<text x="250.8" y="30.6" font-family="Liberation Sans" font-size="17.6" fill="#111" text-anchor="middle" >dose = 30</text>
<text x="574.5" y="30.6" font-family="Liberation Sans" font-size="17.6" fill="#111" text-anchor="middle" >dose = 40</text>
<text x="250.8" y="349.6" font-family="Liberation Sans" font-size="17.6" fill="#111" text-anchor="middle" >dose = 50</text>
<line x1="81.5" y1="77.3" x2="89.5" y2="77.3" stroke="#8c8c8c" stroke-width="1.4"/>
<text x="75.6" y="83.5" font-family="Liberation Sans" font-size="16.5" fill="#111" text-anchor="end" >10</text>
<line x1="81.5" y1="150.5" x2="89.5" y2="150.5" stroke="#8c8c8c" stroke-width="1.4"/>
<text x="75.6" y="156.7" font-family="Liberation Sans" font-size="16.5" fill="#111" text-anchor="end" >1</text>
<line x1="81.5" y1="223.7" x2="89.5" y2="223.7" stroke="#8c8c8c" stroke-width="1.4"/>
<text x="75.6" y="229.89999999999998" font-family="Liberation Sans" font-size="16.5" fill="#111" text-anchor="end" >0.1</text>
<line x1="81.5" y1="296.9" x2="89.5" y2="296.9" stroke="#8c8c8c" stroke-width="1.4"/>
<text x="75.6" y="303.09999999999997" font-family="Liberation Sans" font-size="16.5" fill="#111" text-anchor="end" >0.01</text>
<line x1="81.5" y1="396.4" x2="89.5" y2="396.4" stroke="#8c8c8c" stroke-width="1.4"/>
<text x="75.6" y="402.6" font-family="Liberation Sans" font-size="16.5" fill="#111" text-anchor="end" >10</text>
<line x1="81.5" y1="469.6" x2="89.5" y2="469.6" stroke="#8c8c8c" stroke-width="1.4"/>
<text x="75.6" y="475.8" font-family="Liberation Sans" font-size="16.5" fill="#111" text-anchor="end" >1</text>
<line x1="81.5" y1="542.8" x2="89.5" y2="542.8" stroke="#8c8c8c" stroke-width="1.4"/>
<text x="75.6" y="549.0" font-family="Liberation Sans" font-size="16.5" fill="#111" text-anchor="end" >0.1</text>
<line x1="81.5" y1="616.0" x2="89.5" y2="616.0" stroke="#8c8c8c" stroke-width="1.4"/>
<text x="75.6" y="622.2" font-family="Liberation Sans" font-size="16.5" fill="#111" text-anchor="end" >0.01</text>
<line x1="99.6" y1="651" x2="99.6" y2="658.5" stroke="#8c8c8c" stroke-width="1.4"/>
<text x="99.6" y="680.2" font-family="Liberation Sans" font-size="16.6" fill="#111" text-anchor="middle" >0</text>
<line x1="138.4" y1="651" x2="138.4" y2="658.5" stroke="#8c8c8c" stroke-width="1.4"/>
<text x="138.4" y="680.2" font-family="Liberation Sans" font-size="16.6" fill="#111" text-anchor="middle" >72</text>
<line x1="177.3" y1="651" x2="177.3" y2="658.5" stroke="#8c8c8c" stroke-width="1.4"/>
<text x="177.3" y="680.2" font-family="Liberation Sans" font-size="16.6" fill="#111" text-anchor="middle" >144</text>
<line x1="216.1" y1="651" x2="216.1" y2="658.5" stroke="#8c8c8c" stroke-width="1.4"/>
<text x="216.1" y="680.2" font-family="Liberation Sans" font-size="16.6" fill="#111" text-anchor="middle" >216</text>
<line x1="254.9" y1="651" x2="254.9" y2="658.5" stroke="#8c8c8c" stroke-width="1.4"/>
<text x="254.9" y="680.2" font-family="Liberation Sans" font-size="16.6" fill="#111" text-anchor="middle" >288</text>
<line x1="293.8" y1="651" x2="293.8" y2="658.5" stroke="#8c8c8c" stroke-width="1.4"/>
<text x="293.8" y="680.2" font-family="Liberation Sans" font-size="16.6" fill="#111" text-anchor="middle" >360</text>
<line x1="332.6" y1="651" x2="332.6" y2="658.5" stroke="#8c8c8c" stroke-width="1.4"/>
<text x="332.6" y="680.2" font-family="Liberation Sans" font-size="16.6" fill="#111" text-anchor="middle" >432</text>
<line x1="371.4" y1="651" x2="371.4" y2="658.5" stroke="#8c8c8c" stroke-width="1.4"/>
<text x="371.4" y="680.2" font-family="Liberation Sans" font-size="16.6" fill="#111" text-anchor="middle" >504</text>
<line x1="423.5" y1="651" x2="423.5" y2="658.5" stroke="#8c8c8c" stroke-width="1.4"/>
<text x="423.5" y="680.2" font-family="Liberation Sans" font-size="16.6" fill="#111" text-anchor="middle" >0</text>
<line x1="462.3" y1="651" x2="462.3" y2="658.5" stroke="#8c8c8c" stroke-width="1.4"/>
<text x="462.3" y="680.2" font-family="Liberation Sans" font-size="16.6" fill="#111" text-anchor="middle" >72</text>
<line x1="501.2" y1="651" x2="501.2" y2="658.5" stroke="#8c8c8c" stroke-width="1.4"/>
<text x="501.2" y="680.2" font-family="Liberation Sans" font-size="16.6" fill="#111" text-anchor="middle" >144</text>
<line x1="540.0" y1="651" x2="540.0" y2="658.5" stroke="#8c8c8c" stroke-width="1.4"/>
<text x="540.0" y="680.2" font-family="Liberation Sans" font-size="16.6" fill="#111" text-anchor="middle" >216</text>
<line x1="578.8" y1="651" x2="578.8" y2="658.5" stroke="#8c8c8c" stroke-width="1.4"/>
<text x="578.8" y="680.2" font-family="Liberation Sans" font-size="16.6" fill="#111" text-anchor="middle" >288</text>
<line x1="617.6" y1="651" x2="617.6" y2="658.5" stroke="#8c8c8c" stroke-width="1.4"/>
<text x="617.6" y="680.2" font-family="Liberation Sans" font-size="16.6" fill="#111" text-anchor="middle" >360</text>
<line x1="656.5" y1="651" x2="656.5" y2="658.5" stroke="#8c8c8c" stroke-width="1.4"/>
<text x="656.5" y="680.2" font-family="Liberation Sans" font-size="16.6" fill="#111" text-anchor="middle" >432</text>
<line x1="695.3" y1="651" x2="695.3" y2="658.5" stroke="#8c8c8c" stroke-width="1.4"/>
<text x="695.3" y="680.2" font-family="Liberation Sans" font-size="16.6" fill="#111" text-anchor="middle" >504</text>
<text x="412.4" y="708.8" font-family="Liberation Sans" font-size="19.4" fill="#111" text-anchor="middle" >Time (hours)</text>
<text x="0" y="0" font-family="Liberation Sans" font-size="19.4" fill="#111" text-anchor="middle" transform="translate(31.0,334.7) rotate(-90)">Concentration (μg/mL)</text>
<rect x="55.6" y="715.6" width="638.8" height="20.799999999999955" fill="none" stroke="#8a8a8a" stroke-width="1.2"/>
<circle cx="68.4" cy="726.1" r="4.7" fill="none" stroke="#6886b6" stroke-width="1.3"/>
<text x="82" y="732" font-family="Liberation Sans" font-size="16.9" fill="#111" text-anchor="start" >Observed Concentration</text>
<line x1="276.5" y1="726.4" x2="344" y2="726.4" stroke="#9cbd3f" stroke-width="1.4"/>
<text x="349.5" y="732" font-family="Liberation Sans" font-size="16.9" fill="#111" text-anchor="start" >Median</text>
<line x1="416.8" y1="726.4" x2="484" y2="726.4" stroke="#cf5852" stroke-width="1.4"/>
<text x="491" y="732" font-family="Liberation Sans" font-size="16.9" fill="#111" text-anchor="start" >Predictive Interval Bounds</text>
</svg></body></html>
